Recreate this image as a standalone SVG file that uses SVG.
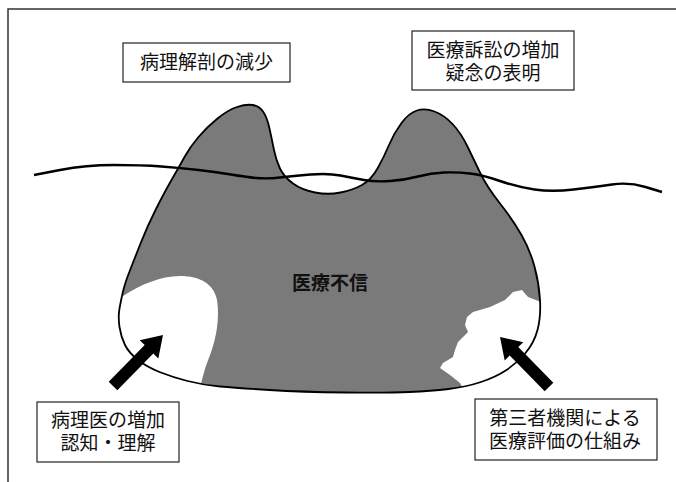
<svg xmlns="http://www.w3.org/2000/svg" width="676" height="482" viewBox="0 0 676 482">
<style>
.box{fill:#fff;stroke:#222;stroke-width:1.2}
.lbl{font-family:"Noto Sans CJK JP","Noto Sans",sans-serif;font-size:19px;fill:#111;text-anchor:middle}
.ctr{font-family:"Noto Sans CJK JP","Noto Sans",sans-serif;font-size:19px;font-weight:bold;fill:#111;text-anchor:middle}
.arrow{fill:#000}
</style>
<rect width="676" height="482" fill="#fff"/>
<g id="frame">
<path d="M8,482 L8,9 L676,9" fill="none" stroke="#333" stroke-width="1.5"/>
</g>
<g id="blob">
<path id="blobFill" d="M119.5,327 Q118,317 119.5,308.5 Q121,300 123,291.5 Q125,283 129.5,271.5 Q134,260 140.5,243.5 Q147,227 155.5,210 Q164,193 171.5,180 Q179,167 184.5,157 Q190,147 198.5,137 Q207,127 217.5,118.5 Q228,110 237,107 Q246,104 252.5,105 Q259,106 263,111.5 Q267,117 269.5,128.5 Q272,140 274,150 Q276,160 280,168.5 Q284,177 293,183.5 Q302,190 315,192.5 Q328,195 340.5,192.5 Q353,190 362,185 Q371,180 377.5,168.5 Q384,157 389,145 Q394,133 401.5,123 Q409,113 417,110.5 Q425,108 434.5,111.5 Q444,115 452.5,124 Q461,133 467.5,146.5 Q474,160 480.5,173.5 Q487,187 500,203.5 Q513,220 521.5,235 Q530,250 534.5,266.5 Q539,283 540,300 Q541,317 537.5,330 Q534,343 525.5,353 Q517,363 506.5,370 Q496,377 481,382 Q466,387 448.5,389 Q431,391 409.5,392 Q388,393 345,392.5 Q302,392 269.5,390 Q237,388 220,386.5 Q203,385 187.5,381 Q172,377 159.5,372 Q147,367 138,360 Q129,353 125,345 Q121,337 119.5,327 Z" fill="#7a7a7a"/>
<path id="whiteLeft" d="M123,296 C140,285 160,276 180,276 C200,276 214,284 217,300 C220,318 216,340 210,355 C205,368 202,378 200,390 L100,402 L100,296 Z" fill="#fff"/>
<path id="whiteRight" d="M541,302 L528,297 L522,290 L513,292 L505,300 L490,307 L473,312 L467,317 L465,325 L468,332 L463,337 L458,342 L455,350 L453,357 L443,363 L440,368 L450,375 L460,383 L465,392 L470,402 L560,402 L560,302 Z" fill="#fff"/>
<path id="blobOutline" d="M119.5,327 Q118,317 119.5,308.5 Q121,300 123,291.5 Q125,283 129.5,271.5 Q134,260 140.5,243.5 Q147,227 155.5,210 Q164,193 171.5,180 Q179,167 184.5,157 Q190,147 198.5,137 Q207,127 217.5,118.5 Q228,110 237,107 Q246,104 252.5,105 Q259,106 263,111.5 Q267,117 269.5,128.5 Q272,140 274,150 Q276,160 280,168.5 Q284,177 293,183.5 Q302,190 315,192.5 Q328,195 340.5,192.5 Q353,190 362,185 Q371,180 377.5,168.5 Q384,157 389,145 Q394,133 401.5,123 Q409,113 417,110.5 Q425,108 434.5,111.5 Q444,115 452.5,124 Q461,133 467.5,146.5 Q474,160 480.5,173.5 Q487,187 500,203.5 Q513,220 521.5,235 Q530,250 534.5,266.5 Q539,283 540,300 Q541,317 537.5,330 Q534,343 525.5,353 Q517,363 506.5,370 Q496,377 481,382 Q466,387 448.5,389 Q431,391 409.5,392 Q388,393 345,392.5 Q302,392 269.5,390 Q237,388 220,386.5 Q203,385 187.5,381 Q172,377 159.5,372 Q147,367 138,360 Q129,353 125,345 Q121,337 119.5,327 Z" fill="none" stroke="#000" stroke-width="1.8"/>
<text class="ctr" x="330" y="290">医療不信</text>
</g>
<g id="wave">
<path d="M34,175 L60,170 Q86,165 114,165 Q142,165 161.5,166.5 Q181,168 198.5,170 Q216,172 231,174.5 Q246,177 256.5,178 Q267,179 280,177.5 Q293,176 310.5,174.5 Q328,173 340.5,175.5 Q353,178 364,180 Q375,182 390,181 Q405,180 418,176.5 Q431,173 444,172.5 Q457,172 470,173.5 Q483,175 500,181 Q517,187 534.5,189.5 Q552,192 573.5,189.5 Q595,187 612,184.5 Q629,182 645.5,187 L662,192" fill="none" stroke="#000" stroke-width="2.4"/>
</g>
<g id="connectors">
<polygon class="arrow" points="163,335 158.3,358.4 153.3,353.5 117.3,390.2 108.7,381.8 144.7,345.1 139.7,340.2"/>
<polygon class="arrow" points="500,337 523.3,342.2 518.3,347.1 553.3,382.8 544.7,391.2 509.7,355.5 504.7,360.4"/>
</g>
<g id="node-autopsy">
<rect class="box" x="123" y="43" width="167" height="39"/>
<text class="lbl" x="206.5" y="69">病理解剖の減少</text>
</g>
<g id="node-lawsuit">
<rect class="box" x="412" y="31" width="162" height="59"/>
<text class="lbl" x="493" y="57">医療訴訟の増加</text>
<text class="lbl" x="493" y="80">疑念の表明</text>
</g>
<g id="node-pathologist">
<rect class="box" x="37" y="402" width="142" height="60"/>
<text class="lbl" x="108" y="427">病理医の増加</text>
<text class="lbl" x="108" y="450">認知・理解</text>
</g>
<g id="node-thirdparty">
<rect class="box" x="475" y="399" width="182" height="61"/>
<text class="lbl" x="565" y="425">第三者機関による</text>
<text class="lbl" x="565" y="448">医療評価の仕組み</text>
</g>
</svg>
